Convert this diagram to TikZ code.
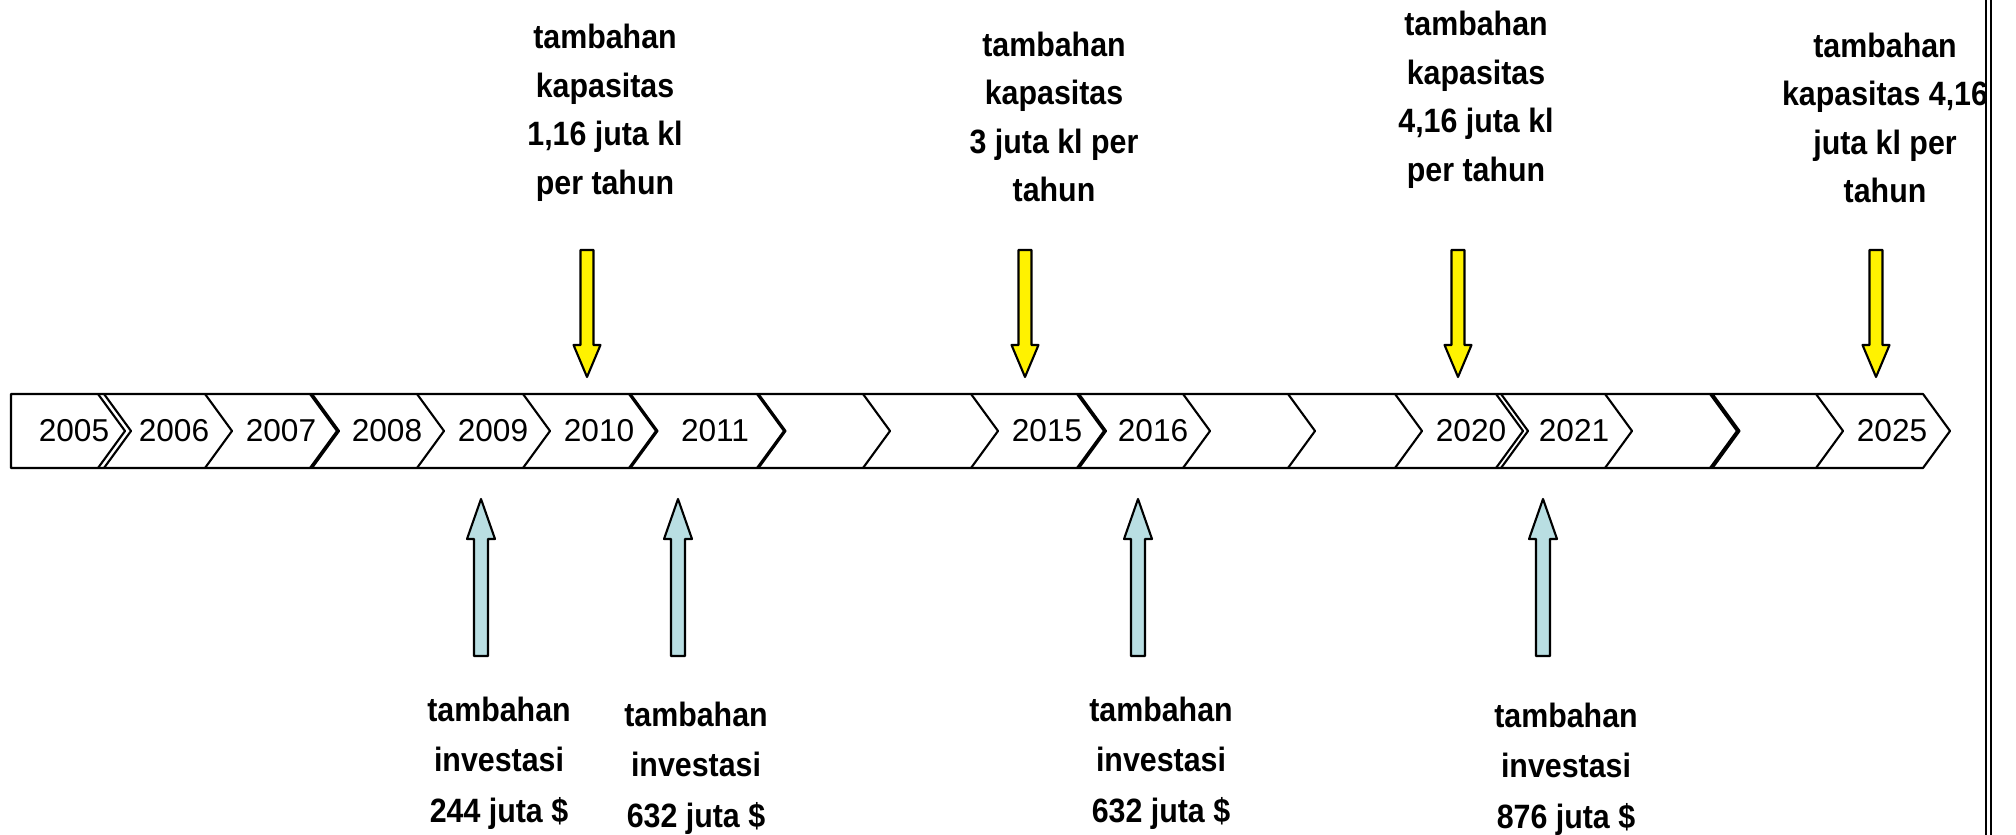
\documentclass[tikz,border=0pt]{standalone}
\usepackage{fontspec}
\setmainfont{Liberation Sans}
\newfontfamily\sempit[FakeStretch=0.9]{Liberation Sans}

\begin{document}
\begin{tikzpicture}[line cap=round, line join=round,
  tahun/.style={font=\fontsize{9}{11}\selectfont, inner sep=0pt},
  ket/.style={font=\sempit\bfseries\fontsize{9.6}{13.8}\selectfont, align=center, inner sep=0pt},
  ketbawah/.style={ket, font=\sempit\bfseries\fontsize{9.6}{14.4}\selectfont},
  kuning/.style={fill=yellow, draw=black, line width=0.6pt},
  biru/.style={fill={rgb,255:red,185;green,222;blue,226}, draw=black, line width=0.6pt}]

\useasboundingbox (0,0) rectangle (20.16,8.35);

% Batang garis waktu
\coordinate (KiriAtas) at (0.11,4.41);
\coordinate (KiriBawah) at (0.11,3.67);
\coordinate (KananAtas) at (19.23,4.41);
\coordinate (KananBawah) at (19.23,3.67);
\draw[line width=0.6pt] (KananAtas) -- (KiriAtas) -- (KiriBawah) -- (KananBawah) -- ++(0.27,0.37) -- cycle;

% Sekat chevron (sebagian bergaris ganda)
\foreach \x/\d in {0.98/0.06, 2.05/0, 3.10/0.02, 4.17/0, 5.23/0, 6.29/0.015, 7.57/0.015, 8.63/0, 9.71/0,
                   10.77/0.02, 11.83/0, 12.88/0, 13.95/0, 14.96/0.05, 16.05/0, 17.10/0.025, 18.16/0}
  \draw[line width=0.6pt] (\x,4.41) -- ++(0.27,-0.37) -- ++(-0.27,-0.37)
        ({\x+\d},4.41) -- ++(0.27,-0.37) -- ++(-0.27,-0.37);

% Label tahun
\foreach \t/\x in {2005/0.74, 2006/1.74, 2007/2.81, 2008/3.87, 2009/4.93, 2010/5.99, 2011/7.15,
                   2015/10.47, 2016/11.53, 2020/14.71, 2021/15.74, 2025/18.92}
  \node[tahun] (t\t) at (\x,4.04) {\t};

% Panah kuning (tambahan kapasitas)
\foreach \x in {5.87,10.25,14.58,18.76}
  \draw[kuning] ({\x-0.065},5.85) -- ({\x+0.065},5.85) -- ({\x+0.065},4.90) -- ({\x+0.135},4.90)
        -- (\x,4.58) -- ({\x-0.135},4.90) -- ({\x-0.065},4.90) -- cycle;

% Panah biru (tambahan investasi)
\foreach \x in {4.81,6.78,11.38,15.43}
  \draw[biru] ({\x-0.07},1.79) -- ({\x+0.07},1.79) -- ({\x+0.07},2.96) -- ({\x+0.14},2.96)
        -- (\x,3.36) -- ({\x-0.14},2.96) -- ({\x-0.07},2.96) -- cycle;

% Keterangan kapasitas
\node[ket] (kap1) at (6.05,7.22) {tambahan\\kapasitas\\1,16 juta kl\\per tahun};
\node[ket] (kap2) at (10.54,7.18) {tambahan\\kapasitas\\3 juta kl per\\tahun};
\node[ket] (kap3) at (14.76,7.35) {tambahan\\kapasitas\\4,16 juta kl\\per tahun};
\node[ket] (kap4) at (18.85,7.17) {tambahan\\kapasitas 4,16\\juta kl per\\tahun};

% Keterangan investasi
\node[ketbawah] (inv1) at (4.99,0.72) {tambahan\\investasi\\244 juta \$};
\node[ketbawah] (inv2) at (6.96,0.67) {tambahan\\investasi\\632 juta \$};
\node[ketbawah] (inv3) at (11.61,0.72) {tambahan\\investasi\\632 juta \$};
\node[ketbawah] (inv4) at (15.66,0.66) {tambahan\\investasi\\876 juta \$};

% Garis tepi kanan (ganda)
\draw[line width=0.6pt] (19.86,0) -- (19.86,8.35) (19.91,0) -- (19.91,8.35);

\end{tikzpicture}
\end{document}
